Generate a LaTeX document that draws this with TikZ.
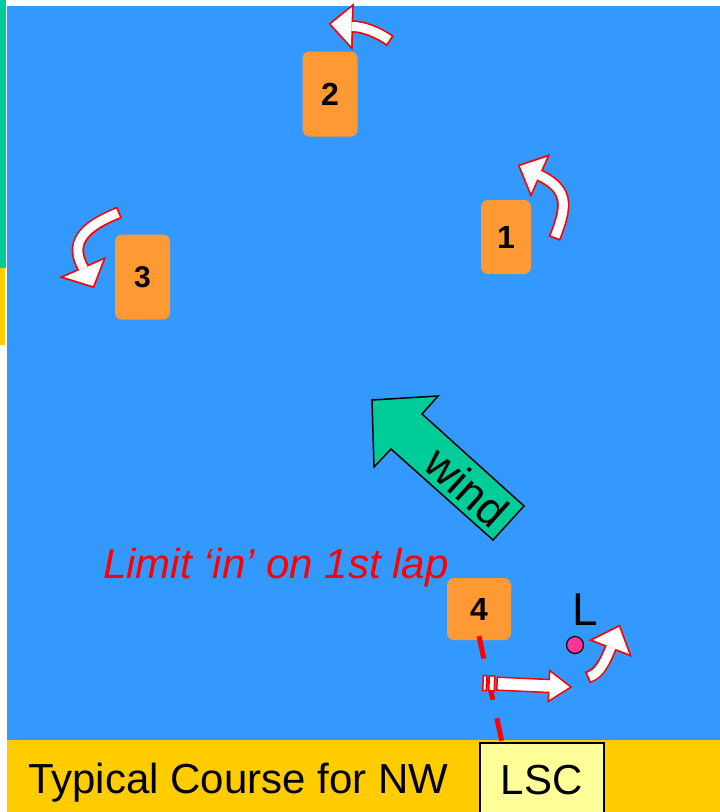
\documentclass[tikz,border=0pt]{standalone}
\usepackage{fontspec}
\setmainfont{Liberation Sans}
\definecolor{sea}{HTML}{3399FF}
\definecolor{markor}{HTML}{FF9933}
\definecolor{windg}{HTML}{00CC99}
\definecolor{bary}{HTML}{FFCC00}
\definecolor{lscy}{HTML}{FFFF99}
\definecolor{dotp}{HTML}{FF3399}
\newcommand{\myCurvArrow}[7]{%
  \draw[red, line width=12.5pt, shorten <=-1.8pt] #1 .. controls #2 and #3 .. #4;
  \filldraw[red, line width=3.5pt, line join=miter] #5 -- #6 -- #7 -- cycle;
  \draw[white, line width=9pt] #1 .. controls #2 and #3 .. #4;
  \fill[white] #5 -- #6 -- #7 -- cycle;}
\begin{document}
\begin{tikzpicture}[x=1pt,y=-1pt,
  markbox/.style={fill=markor, rounded corners=7pt, inner sep=0pt,
    font=\fontsize{32}{32}\selectfont\bfseries},
  dashline/.style={red, line width=5pt, dash pattern=on 23pt off 19pt},
  bigtext/.style={font=\fontsize{42}{42}\selectfont}]
\useasboundingbox (0,0) rectangle (720,812);
\fill[white] (0,0) rectangle (720,812);
% sea
\fill[sea] (7,6) rectangle (720,740);
% left strips
\fill[windg] (0,0) rectangle (6,268);
\fill[bary] (0,268) rectangle (5,345);
% bottom bar
\fill[bary] (7,740) rectangle (720,812);
\node[bigtext, anchor=base west, inner sep=0pt] (title) at (28,793) {Typical Course for NW};
\node[draw=black, line width=1.5pt, fill=lscy, minimum width=124pt, minimum height=74pt,
  anchor=north west, bigtext, inner sep=0pt] (lsc) at (479,742) {LSC};
% marks
\node[markbox, minimum width=55pt, minimum height=85pt] (m2) at (330,94) {2};
\node[markbox, minimum width=50pt, minimum height=74pt] (m1) at (506,237) {1};
\node[markbox, minimum width=55pt, minimum height=85pt, font=\fontsize{30}{30}\selectfont\bfseries] (m3) at (142.5,277) {3};
\node[markbox, minimum width=64pt, minimum height=62pt] (m4) at (479,609) {4};
% dashed line from mark 4 to LSC
\draw[dashline] ([yshift=4pt]m4.south) -- ([xshift=23pt]lsc.north west);
% rounding arrows
\myCurvArrow{(389,40)}{(379,33)}{(363,26)}{(351.5,26.5)}{(352,7)}{(331,24)}{(351,46)}
\myCurvArrow{(555,237)}{(568,204.5)}{(568,189)}{(539,175)}{(547,157)}{(520,166)}{(531,193)}
\myCurvArrow{(118,213)}{(80,228)}{(70,245)}{(83.5,268.5)}{(64,277)}{(93,286)}{(103,260)}
\myCurvArrow{(589,677)}{(600.5,673.5)}{(606.6,658)}{(611,647)}{(593,640)}{(619,627)}{(629,654)}
% striped start arrow
\begin{scope}[rotate around={-2.6:(527,685)}]
  \filldraw[fill=white, draw=red, line width=1.5pt] (483,677.5) rectangle (486.5,692.5);
  \filldraw[fill=white, draw=red, line width=1.5pt] (489,677.5) rectangle (494.5,692.5);
  \filldraw[fill=white, draw=red, line width=1.5pt, line join=miter]
    (497,678.5) -- (549,678.5) -- (549,669.5) -- (571,685) -- (549,700.5) -- (549,691.5) -- (497,691.5) -- cycle;
\end{scope}
% wind arrow
\filldraw[fill=windg, draw=black, line width=1.5pt, line join=miter]
  (372,400) -- (438,396) -- (422,414) -- (524,506) -- (493,540) -- (391,449) -- (374,467) -- cycle;
\node[rotate=-42, font=\fontsize{45}{45}\selectfont, inner sep=0pt] (windtxt) at (467,487) {wind};
% texts
\node[anchor=base west, text=red, font=\fontsize{42}{42}\selectfont\itshape, inner sep=0pt] (limit) at (103,578) {Limit ‘in’ on 1st lap};
\node[circle, fill=dotp, draw=black, line width=1.2pt, minimum size=17pt, inner sep=0pt] (dot) at (575,645) {};
\node[anchor=base west, font=\fontsize{46}{46}\selectfont, inner sep=0pt] (Llabel) at (572,625) {L};
\end{tikzpicture}
\end{document}
